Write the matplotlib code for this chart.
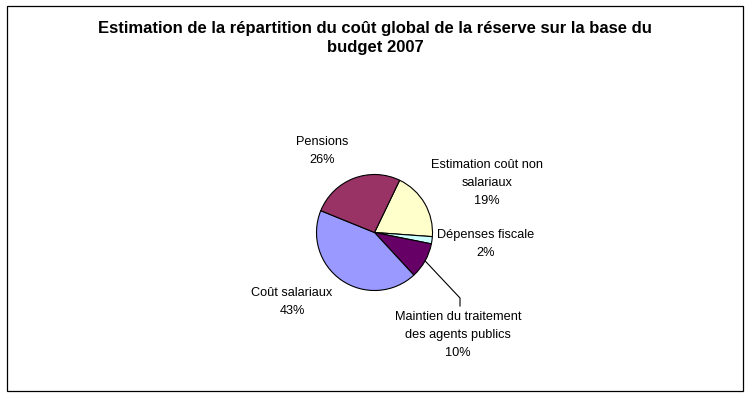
import numpy as np
import matplotlib.pyplot as plt

# data (shares of the global cost, %)
categories = ["Estimation coût non\nsalariaux", "Dépenses fiscale",
              "Maintien du traitement\ndes agents publics", "Coût salariaux", "Pensions"]
values = [19, 2, 10, 43, 26]
colors = ["#FFFFCC", "#CCFFFF", "#660066", "#9999FF", "#993366"]

# label block centres in pixel coords (x, y from top)
label_pos = [(487, 183), (486, 244), (458, 335), (292, 302), (322, 151)]

W, H = 749, 397
fig = plt.figure(figsize=(W / 100, H / 100), dpi=100)
ax = fig.add_axes([0, 0, 1, 1])

cx, cy, r = 374.5, H - 232.5, 58
wedges, _ = ax.pie(values, colors=colors, startangle=64.3, counterclock=False,
                   center=(cx, cy), radius=r,
                   wedgeprops=dict(edgecolor="black", linewidth=0.8))
ax.set_xlim(0, W)
ax.set_ylim(0, H)
ax.set_aspect("auto")
ax.axis("off")

total = sum(values)
for name, v, (lx, ly) in zip(categories, values, label_pos):
    ax.text(lx, H - ly, f"{name}\n{round(100 * v / total)}%", ha="center", va="center",
            fontsize=9.2, family="Liberation Sans", linespacing=1.7)

# leader line for the "Maintien" slice
w = wedges[2]
mid = np.deg2rad((w.theta1 + w.theta2) / 2)
x0, y0 = cx + r * np.cos(mid), cy + r * np.sin(mid)
ax.plot([x0, 460, 460], [y0, H - 298, H - 306], color="black", lw=0.8)

fig.text(375 / W, 1 - 38 / H,
         "Estimation de la répartition du coût global de la réserve sur la base du\nbudget 2007",
         ha="center", va="center", fontsize=12, fontweight="bold",
         family="Liberation Sans", linespacing=1.35)

# outer frame
ax.add_patch(plt.Rectangle((6.5, H - 391), 736, 385, fill=False, edgecolor="black", lw=0.9))

fig.savefig("out.png", dpi=100)
